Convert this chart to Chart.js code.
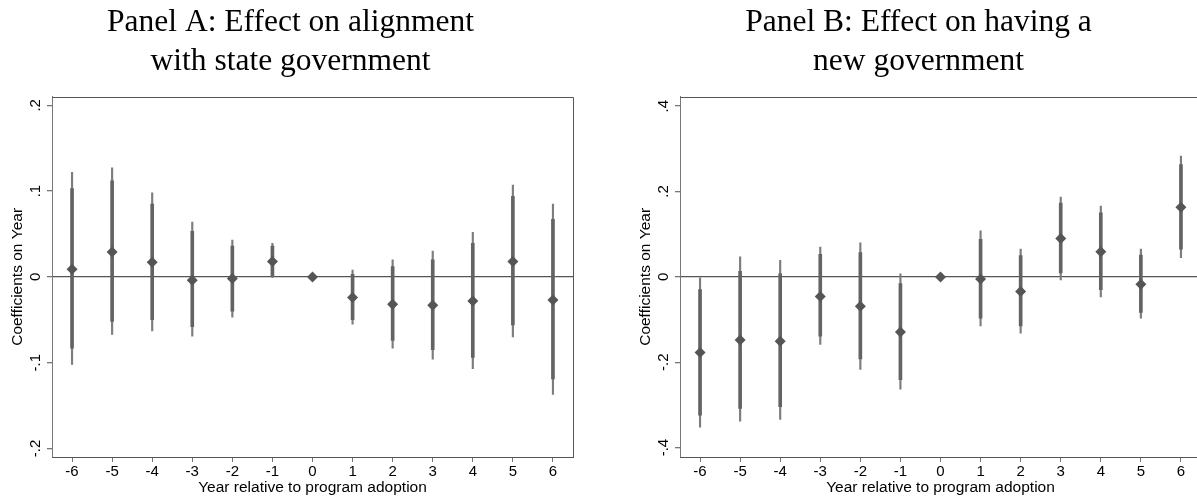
<!DOCTYPE html>
<html>
<head>
<meta charset="utf-8">
<script src="https://cdn.jsdelivr.net/npm/chart.js@4.4.1/dist/chart.umd.min.js"></script>
<style>
body { margin: 0; background: #fff; overflow: hidden; }
#wrap { position: relative; width: 1197px; height: 498px; overflow: hidden; }
#boxA { position: absolute; left: 0; top: 0; width: 600px; height: 498px; }
#boxB { position: absolute; left: 600px; top: 0; width: 620px; height: 498px; }
</style>
</head>
<body>
<div id="wrap">
  <div id="boxA"><canvas id="chartA"></canvas></div>
  <div id="boxB"><canvas id="chartB"></canvas></div>
</div>
<script>
const years = [-6, -5, -4, -3, -2, -1, 0, 1, 2, 3, 4, 5, 6];

// Panel A: alignment with state government
const coefA = [0.009, 0.029, 0.017, -0.004, -0.002, 0.018, 0, -0.024, -0.032, -0.033, -0.028, 0.018, -0.027];
const hi90A = [0.103, 0.112, 0.085, 0.053, 0.036, 0.036, null, 0.003, 0.012, 0.020, 0.039, 0.094, 0.067];
const lo90A = [-0.083, -0.052, -0.050, -0.058, -0.040, 0.001, null, -0.050, -0.074, -0.085, -0.094, -0.056, -0.119];
const hi95A = [0.122, 0.127, 0.098, 0.064, 0.043, 0.039, null, 0.008, 0.020, 0.030, 0.052, 0.107, 0.085];
const lo95A = [-0.102, -0.067, -0.063, -0.069, -0.047, -0.001, null, -0.055, -0.083, -0.096, -0.107, -0.070, -0.137];
const tickValsA = [-0.2, -0.1, 0, 0.1, 0.2];
const tickLabA = ['-.2', '-.1', '0', '.1', '.2'];

// Panel B: having a new government
const coefB = [-0.177, -0.148, -0.151, -0.046, -0.069, -0.129, 0, -0.005, -0.034, 0.090, 0.059, -0.017, 0.163];
const hi90B = [-0.030, 0.013, 0.007, 0.053, 0.057, -0.016, null, 0.088, 0.050, 0.173, 0.150, 0.051, 0.263];
const lo90B = [-0.324, -0.308, -0.304, -0.139, -0.192, -0.241, null, -0.097, -0.115, 0.009, -0.030, -0.083, 0.065];
const hi95B = [-0.002, 0.047, 0.039, 0.070, 0.080, 0.007, null, 0.108, 0.065, 0.187, 0.166, 0.065, 0.283];
const lo95B = [-0.352, -0.338, -0.334, -0.158, -0.217, -0.263, null, -0.115, -0.132, -0.007, -0.047, -0.097, 0.045];
const tickValsB = [-0.4, -0.2, 0, 0.2, 0.4];
const tickLabB = ['-.4', '-.2', '0', '.2', '.4'];

const sans = 'Liberation Sans, Arial, sans-serif';

// top and right edges of the plot region, like Stata
const framePlugin = {
    id: 'frame',
    afterDatasetsDraw(chart, args, opts) {
        const a = chart.chartArea;
        const ctx = chart.ctx;
        const l = Math.round(a.left) + 0.5, t = Math.round(a.top) + 0.5;
        const r = Math.round(a.right) + 0.5, b = Math.round(a.bottom) + 0.5;
        ctx.save();
        ctx.lineWidth = 1;
        ctx.strokeStyle = '#555';
        ctx.beginPath();
        ctx.moveTo(l, t);
        ctx.lineTo(r, t);
        if (opts.right !== false) ctx.lineTo(r, b);
        ctx.stroke();
        ctx.restore();
    }
};

function ranges(lo, hi) {
    return lo.map((v, i) => v === null ? null : [v, hi[i]]);
}

function makeChart(id, title, coef, lo90, hi90, lo95, hi95, yMin, yMax, tickVals, tickLab, pad, rightEdge) {
    const ctx = document.getElementById(id).getContext('2d');
    return new Chart(ctx, {
        type: 'bar',
        data: {
            labels: years.map(String),
            datasets: [
                {
                    type: 'line',
                    data: coef,
                    showLine: false,
                    pointStyle: 'rectRot',
                    pointRadius: 5.5,
                    pointBorderWidth: 0,
                    pointBackgroundColor: '#555',
                    order: 1
                },
                {
                    data: ranges(lo90, hi90),
                    backgroundColor: '#636363',
                    barThickness: 3,
                    grouped: false,
                    order: 2
                },
                {
                    data: ranges(lo95, hi95),
                    backgroundColor: '#7d7d7d',
                    barThickness: 1.5,
                    grouped: false,
                    order: 3
                }
            ]
        },
        options: {
            responsive: true,
            maintainAspectRatio: false,
            animation: false,
            layout: { padding: pad },
            plugins: {
                legend: { display: false },
                tooltip: { enabled: false },
                frame: { right: rightEdge },
                title: {
                    display: true,
                    text: title,
                    color: '#000',
                    font: { family: 'Liberation Serif, Times New Roman, serif', size: 31.5, weight: 'normal', lineHeight: 1.25 },
                    padding: { top: 3, bottom: 15 }
                }
            },
            scales: {
                x: {
                    offset: true,
                    afterFit: s => { s.height = 40; },
                    grid: { offset: false, drawOnChartArea: false, tickLength: 5, tickColor: '#777' },
                    border: { color: '#555' },
                    ticks: { color: '#000', padding: 1, maxRotation: 0, autoSkip: false, font: { family: sans, size: 15 } },
                    title: { display: true, text: 'Year relative to program adoption', color: '#000', padding: 0, font: { family: sans, size: 15.5 } }
                },
                y: {
                    min: yMin,
                    max: yMax,
                    afterBuildTicks: s => { s.ticks = tickVals.map(v => ({ value: v })); },
                    afterFit: s => { s.width = 44; },
                    grid: {
                        color: c => (c.tick && c.tick.value === 0) ? '#555' : 'rgba(0,0,0,0)',
                        lineWidth: 1.3,
                        tickColor: '#777',
                        tickLength: 5
                    },
                    border: { color: '#777' },
                    ticks: {
                        color: '#000',
                        minRotation: 90,
                        maxRotation: 90,
                        crossAlign: 'center',
                        padding: 2,
                        font: { family: sans, size: 15 },
                        callback: v => tickLab[tickVals.indexOf(v)]
                    },
                    title: { display: true, text: 'Coefficients on Year', color: '#000', padding: 0, font: { family: sans, size: 15.5 } }
                }
            }
        },
        plugins: [framePlugin]
    });
}

makeChart('chartA', ['Panel A: Effect on alignment', 'with state government'],
    coefA, lo90A, hi90A, lo95A, hi95A, -0.21, 0.21, tickValsA, tickLabA,
    { left: 8, right: 27, top: 0, bottom: 1 }, true);

// the right edge of panel B falls outside the picture
makeChart('chartB', ['Panel B: Effect on having a', 'new government'],
    coefB, lo90B, hi90B, lo95B, hi95B, -0.422, 0.422, tickValsB, tickLabB,
    { left: 36, right: 19, top: 0, bottom: 1 }, false);
</script>
</body>
</html>
